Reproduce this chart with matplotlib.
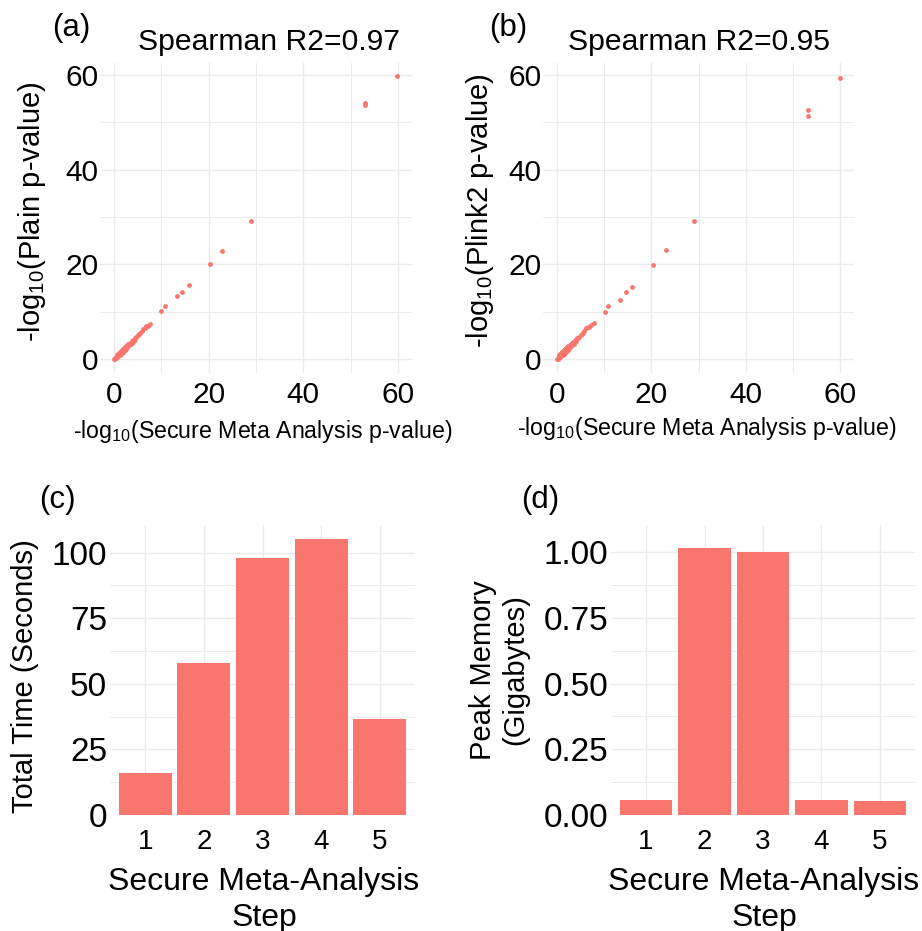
import matplotlib
matplotlib.use('Agg')
import matplotlib.pyplot as plt

plt.rcParams['font.family'] = ['Liberation Sans', 'DejaVu Sans']
plt.rcParams['mathtext.default'] = 'regular'

RED = '#F8766D'
GRID = '#EBEBEB'

# panel (a): secure meta analysis vs plain
a_x = [0.05, 0.1, 0.2, 0.3, 0.4, 0.5, 0.6, 0.7, 0.8, 0.9, 1.0, 1.1, 1.2, 1.3, 1.4,
       1.5, 1.6, 1.7, 1.8, 1.9, 2.0, 2.1, 2.2, 2.3, 2.4, 2.5, 2.6, 2.7, 2.8, 2.9,
       3.0, 3.1, 3.2, 3.4, 3.5, 3.7, 3.8, 4.0, 4.1, 4.3, 4.5, 4.7, 5.0, 5.2, 5.5,
       5.8, 6.2, 6.5, 6.8, 7.2, 7.6,
       10.0, 10.8, 13.2, 14.4, 15.8, 20.2, 22.9, 29.0, 53.1, 53.1, 59.9]
a_y = [0.1, 0.3, 0.0, 0.5, 0.2, 0.8, 0.4, 1.0, 0.6, 1.2, 0.8, 1.4, 1.0, 1.6, 1.2,
       1.8, 1.4, 2.0, 1.6, 2.2, 1.8, 2.4, 2.0, 2.6, 2.2, 2.8, 2.4, 3.0, 2.6, 3.2,
       2.8, 3.3, 3.0, 3.5, 3.2, 3.8, 3.5, 4.1, 3.8, 4.4, 4.3, 4.6, 5.1, 5.3, 5.5,
       5.9, 6.3, 6.6, 7.0, 7.1, 7.5,
       10.2, 11.3, 13.4, 14.2, 15.7, 20.1, 22.9, 29.2, 54.0, 53.6, 59.7]

# panel (b): secure meta analysis vs plink2
b_x = [0.05, 0.1, 0.2, 0.3, 0.4, 0.5, 0.6, 0.7, 0.8, 0.9, 1.0, 1.1, 1.2, 1.3, 1.4,
       1.5, 1.6, 1.7, 1.8, 1.9, 2.0, 2.1, 2.2, 2.3, 2.4, 2.5, 2.6, 2.7, 2.8, 2.9,
       3.0, 3.1, 3.2, 3.4, 3.5, 3.7, 3.8, 4.0, 4.1, 4.3, 4.5, 4.7, 5.0, 5.2, 5.5,
       5.8, 6.2, 6.5, 6.8, 7.2, 7.8,
       10.1, 10.9, 13.3, 14.6, 15.9, 20.3, 23.1, 29.1, 53.3, 53.3, 60.0]
b_y = [0.0, 0.3, 0.1, 0.6, 0.2, 0.9, 0.4, 1.1, 0.6, 1.3, 0.8, 1.5, 1.0, 1.7, 1.2,
       1.9, 1.4, 2.1, 1.6, 2.3, 1.8, 2.5, 2.0, 2.7, 2.2, 2.9, 2.4, 3.1, 2.6, 3.3,
       2.8, 3.4, 3.0, 3.6, 3.3, 3.9, 3.6, 4.2, 3.9, 4.4, 4.4, 4.7, 5.2, 5.4, 5.6,
       6.0, 6.5, 6.7, 6.9, 7.2, 7.7,
       10.0, 11.3, 12.6, 14.1, 15.2, 19.9, 23.1, 29.2, 52.6, 51.4, 59.3]

steps = ['1', '2', '3', '4', '5']
total_time = [16, 58, 98, 105, 36.5]
peak_memory = [0.057, 1.015, 1.0, 0.057, 0.055]

W, H = 922, 931
fig = plt.figure(figsize=(W / 100, H / 100), dpi=100)


def add_ax(left, top, right, bottom):
    return fig.add_axes([left / W, 1 - bottom / H, (right - left) / W, (bottom - top) / H])


def style(ax, tick_size, xtick_size=None, xpad=8, ypad=2):
    for s in ax.spines.values():
        s.set_visible(False)
    ax.grid(True, which='major', color=GRID, lw=1.0, zorder=0)
    ax.grid(True, which='minor', color=GRID, lw=0.7, zorder=0)
    ax.set_axisbelow(True)
    ax.tick_params(which='both', length=0)
    ax.tick_params(axis='y', labelsize=tick_size, pad=ypad)
    ax.tick_params(axis='x', labelsize=xtick_size or tick_size, pad=xpad)


def scatter_panel(ax, x, y):
    ax.scatter(x, y, s=12, color=RED, linewidths=0, zorder=3)
    ax.set_xlim(-3, 63)
    ax.set_ylim(-2.9, 62.5)
    ax.set_xticks([0, 20, 40, 60])
    ax.set_yticks([0, 20, 40, 60])
    ax.set_xticks([10, 30, 50], minor=True)
    ax.set_yticks([10, 30, 50], minor=True)
    style(ax, 21.5, xpad=6, ypad=1)


def bar_panel(ax, vals, top, yticks, yminor, ylabels):
    ax.bar(range(1, 6), vals, width=0.9, color=RED, zorder=3)
    ax.set_xlim(0.4, 5.6)
    ax.set_ylim(0, top)
    ax.set_xticks(range(1, 6))
    ax.set_xticklabels(steps)
    ax.set_yticks(yticks)
    ax.set_yticklabels(ylabels)
    ax.set_yticks(yminor, minor=True)
    style(ax, 24, 20, xpad=10, ypad=2)


# (a)
ax1 = add_ax(100, 63, 412, 373)
scatter_panel(ax1, a_x, a_y)
# (b)
ax2 = add_ax(543, 63, 854, 373)
scatter_panel(ax2, b_x, b_y)
# (c)
ax3 = add_ax(110, 525, 415, 815)
bar_panel(ax3, total_time, 110.5, [0, 25, 50, 75, 100], [12.5, 37.5, 62.5, 87.5],
          ['0', '25', '50', '75', '100'])
# (d)
ax4 = add_ax(611, 525, 915, 815)
bar_panel(ax4, peak_memory, 1.103, [0, 0.25, 0.5, 0.75, 1.0], [0.125, 0.375, 0.625, 0.875],
          ['0.00', '0.25', '0.50', '0.75', '1.00'])


def txt(x, y, s, size, rot=0, **kw):
    fig.text(x / W, 1 - y / H, s, fontsize=size, rotation=rot, ha='center', va='center', **kw)


txt(71, 28, '(a)', 22.5)
txt(508, 28, '(b)', 22.5)
txt(57, 500, '(c)', 22.5)
txt(540, 500, '(d)', 22.5)

txt(269, 42, 'Spearman R2=0.97', 21.7)
txt(699, 42, 'Spearman R2=0.95', 21.7)

txt(263, 432, r'-log$_{10}$(Secure Meta Analysis p-value)', 16.7)
txt(707, 428, r'-log$_{10}$(Secure Meta Analysis p-value)', 16.7)
txt(32, 212, r'-log$_{10}$(Plain p-value)', 21, rot=90)
txt(480, 211, r'-log$_{10}$(Plink2 p-value)', 21, rot=90)

txt(264, 900, 'Secure Meta-Analysis\nStep', 23, linespacing=1.22)
txt(764, 900, 'Secure Meta-Analysis\nStep', 23, linespacing=1.22)
txt(25, 676, 'Total Time (Seconds)', 21, rot=90)
txt(499, 670, 'Peak Memory\n(Gigabytes)', 21, rot=90, linespacing=1.2)

fig.savefig('out.png', dpi=100)
